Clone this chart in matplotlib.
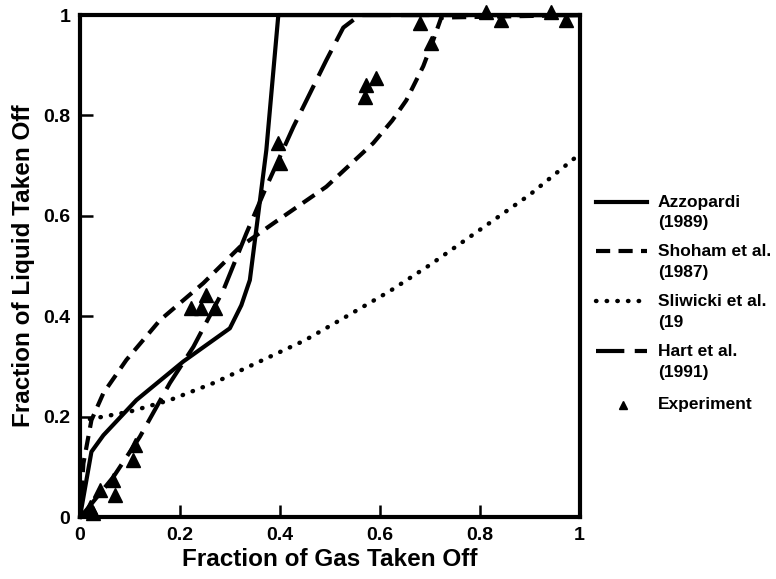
import numpy as np
import matplotlib
matplotlib.use('Agg')
import matplotlib.pyplot as plt
from matplotlib.lines import Line2D

plt.rcParams['font.family'] = 'Liberation Sans'
plt.rcParams['font.weight'] = 'bold'

# Azzopardi (1989)
azz_x = [0.0, 0.023, 0.047, 0.113, 0.207, 0.30, 0.323, 0.34, 0.357, 0.373, 0.397, 1.0]
azz_y = [0.0, 0.13, 0.163, 0.233, 0.31, 0.376, 0.422, 0.472, 0.605, 0.731, 1.0, 1.0]

# Shoham et al. (1987)
sho_x = [0.0, 0.007, 0.023, 0.047, 0.093, 0.16, 0.247, 0.32, 0.387, 0.493, 0.587, 0.625, 0.653, 0.687, 0.707, 0.723, 1.0]
sho_y = [0.0, 0.107, 0.193, 0.247, 0.313, 0.392, 0.466, 0.538, 0.585, 0.658, 0.745, 0.79, 0.83, 0.898, 0.95, 0.995, 1.0]

# Sliwicki et al.
sli_x = [0.02, 0.1, 0.18, 0.27, 0.36, 0.45, 0.527, 0.62, 0.70, 0.80, 0.90, 0.99]
sli_y = [0.195, 0.21, 0.233, 0.268, 0.31, 0.352, 0.396, 0.45, 0.502, 0.572, 0.642, 0.715]

# Hart et al. (1991)
hart_x = [0.0, 0.013, 0.067, 0.12, 0.18, 0.227, 0.287, 0.333, 0.373, 0.427, 0.493, 0.527, 0.56, 1.0]
hart_y = [0.0, 0.014, 0.08, 0.16, 0.267, 0.339, 0.452, 0.565, 0.658, 0.777, 0.91, 0.975, 1.0, 1.0]

# Experiment
exp_x = [0.027, 0.02, 0.04, 0.07, 0.067, 0.107, 0.11, 0.223, 0.243, 0.253, 0.27,
         0.397, 0.40, 0.57, 0.573, 0.593, 0.68, 0.703, 0.813, 0.843, 0.943, 0.973]
exp_y = [0.008, 0.02, 0.054, 0.044, 0.074, 0.114, 0.143, 0.416, 0.416, 0.442, 0.416,
         0.745, 0.705, 0.837, 0.86, 0.874, 0.984, 0.944, 1.006, 0.99, 1.006, 0.99]

labels = [('Azzopardi', '(1989)'), ('Shoham et al.', '(1987)'), ('Sliwicki et al.', '(19'),
          ('Hart et al.', '(1991)'), ('Experiment', None)]

W, H = 776, 579
fig = plt.figure(figsize=(W / 100, H / 100), dpi=100)
ax = fig.add_axes([0.103, 0.107, 0.644, 0.867])

lw = 3.0
styles = [
    dict(color='black', lw=lw),
    dict(color='black', lw=lw, dashes=(3.4, 2.0)),
    dict(color='black', lw=3.2, linestyle=(0, (0.1, 2.3)), dash_capstyle='round'),
    dict(color='black', lw=lw, dashes=(6.8, 2.5)),
]
ax.plot(azz_x, azz_y, clip_on=False, **styles[0])
ax.plot(sho_x, sho_y, clip_on=False, **styles[1])
ax.plot(sli_x, sli_y, clip_on=False, **styles[2])
ax.plot(hart_x, hart_y, clip_on=False, **styles[3])
ax.plot(exp_x, exp_y, linestyle='none', marker='^', color='black', markersize=10.5, clip_on=False)

ax.set_xlim(0, 1)
ax.set_ylim(0, 1)
ax.set_xticks([0, 0.2, 0.4, 0.6, 0.8, 1])
ax.set_xticklabels(['0', '0.2', '0.4', '0.6', '0.8', '1'])
ax.set_yticks([0, 0.2, 0.4, 0.6, 0.8, 1])
ax.set_yticklabels(['0', '0.2', '0.4', '0.6', '0.8', '1'])
ax.tick_params(direction='in', length=9, width=1.8, labelsize=14, pad=7)
for s in ax.spines.values():
    s.set_linewidth(3)

ax.set_xlabel('Fraction of Gas Taken Off', fontsize=17.5, fontweight='bold', labelpad=3)
ax.set_ylabel('Fraction of Liquid Taken Off', fontsize=17.5, fontweight='bold', labelpad=6)

# legend drawn by hand: handle sits on the first text line
rows = [202, 251, 301, 351, 405]
for i, (l1, l2) in enumerate(labels):
    y = 1 - rows[i] / H
    if i < 4:
        fig.add_artist(Line2D([596 / W, 647 / W], [y, y], transform=fig.transFigure, **styles[i]))
    else:
        fig.add_artist(Line2D([623 / W], [y], transform=fig.transFigure, marker='^',
                              color='black', markersize=6, linestyle='none'))
    fig.text(658 / W, y, l1, fontsize=12.5, va='center', ha='left')
    if l2:
        fig.text(658 / W, y - 21 / H, l2, fontsize=12.5, va='center', ha='left')

fig.savefig('out.png', dpi=100)
